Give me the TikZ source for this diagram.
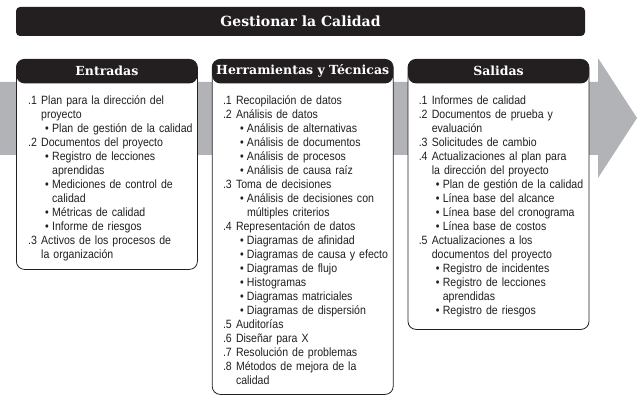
\documentclass[tikz,border=0pt]{standalone}
\usepackage{fontspec}
\setmainfont[FakeStretch=0.88]{Liberation Sans}
\newfontfamily\slabfont{DejaVu Serif}
\usetikzlibrary{positioning}
\definecolor{pmink}{RGB}{35,31,32}
\definecolor{pmgray}{RGB}{177,179,182}
\newcommand{\lnum}[2]{\par\hangindent=13pt\hangafter=1\rule{0pt}{11pt}\makebox[13pt][l]{#1}#2}
\newcommand{\lbul}[1]{\par\hangindent=24pt\hangafter=1\rule{0pt}{11pt}\hspace*{17pt}\makebox[7pt][l]{\textbullet}#1}

\begin{document}
\begin{tikzpicture}[
  x=1pt, y=-1pt,
  titlebar/.style={fill=pmink, rounded corners=4pt, text=white,
                   minimum width=569pt, minimum height=29pt, inner sep=0pt,
                   font=\slabfont\bfseries\fontsize{14}{16}\selectfont},
  colbox/.style={draw=pmink, fill=white, rounded corners=8pt, line width=0.8pt,
                 minimum width=181pt, anchor=north west, inner sep=0pt,
                 path picture={\fill[pmink] (path picture bounding box.north west)
                   rectangle ([yshift=-24pt]path picture bounding box.north east);}},
  hdrtxt/.style={text=white, inner sep=0pt,
                 font=\slabfont\bfseries\fontsize{12.5}{14}\selectfont},
  listtxt/.style={text width=178pt, inner sep=0pt, anchor=north west, text=pmink,
                  font=\fontsize{12}{14}\selectfont}
]
\useasboundingbox (0,0) rectangle (641,404);

% ── Flow arrow ───────────────────────────────────────────────────────────────
\fill[pmgray] (0,82) -- (598,82) -- (598,58) -- (637,118)
  -- (598,178) -- (598,155) -- (0,155) -- cycle;

% ── Title ────────────────────────────────────────────────────────────────────
\node[titlebar] (title) at (300.5,21.5) {Gestionar la Calidad};

% ── Columns ──────────────────────────────────────────────────────────────────
\node[colbox, minimum height=210pt] (entbox) at (16,59) {};
\node[colbox, minimum height=335pt, right=14pt of entbox.north east, anchor=north west] (herbox) {};
\node[colbox, minimum height=270pt, right=14pt of herbox.north east, anchor=north west] (salbox) {};

\node[hdrtxt] (enthdr) at ([yshift=-12pt]entbox.north) {Entradas};
\node[hdrtxt] (herhdr) at ([yshift=-12pt]herbox.north) {Herramientas y Técnicas};
\node[hdrtxt] (salhdr) at ([yshift=-12pt]salbox.north) {Salidas};

% ── Lists ────────────────────────────────────────────────────────────────────
\node[listtxt] (entlist) at ([xshift=12pt, yshift=-31pt]entbox.north west) {%
  \lnum{.1}{Plan para la dirección del\newline proyecto}
  \lbul{Plan de gestión de la calidad}
  \lnum{.2}{Documentos del proyecto}
  \lbul{Registro de lecciones\newline aprendidas}
  \lbul{Mediciones de control de\newline calidad}
  \lbul{Métricas de calidad}
  \lbul{Informe de riesgos}
  \lnum{.3}{Activos de los procesos de\newline la organización}\par};

\node[listtxt] (herlist) at ([xshift=11pt, yshift=-31pt]herbox.north west) {%
  \lnum{.1}{Recopilación de datos}
  \lnum{.2}{Análisis de datos}
  \lbul{Análisis de alternativas}
  \lbul{Análisis de documentos}
  \lbul{Análisis de procesos}
  \lbul{Análisis de causa raíz}
  \lnum{.3}{Toma de decisiones}
  \lbul{Análisis de decisiones con\newline múltiples criterios}
  \lnum{.4}{Representación de datos}
  \lbul{Diagramas de afinidad}
  \lbul{Diagramas de causa y efecto}
  \lbul{Diagramas de flujo}
  \lbul{Histogramas}
  \lbul{Diagramas matriciales}
  \lbul{Diagramas de dispersión}
  \lnum{.5}{Auditorías}
  \lnum{.6}{Diseñar para X}
  \lnum{.7}{Resolución de problemas}
  \lnum{.8}{Métodos de mejora de la\newline calidad}\par};

\node[listtxt] (sallist) at ([xshift=11pt, yshift=-31pt]salbox.north west) {%
  \lnum{.1}{Informes de calidad}
  \lnum{.2}{Documentos de prueba y\newline evaluación}
  \lnum{.3}{Solicitudes de cambio}
  \lnum{.4}{Actualizaciones al plan para\newline la dirección del proyecto}
  \lbul{Plan de gestión de la calidad}
  \lbul{Línea base del alcance}
  \lbul{Línea base del cronograma}
  \lbul{Línea base de costos}
  \lnum{.5}{Actualizaciones a los\newline documentos del proyecto}
  \lbul{Registro de incidentes}
  \lbul{Registro de lecciones\newline aprendidas}
  \lbul{Registro de riesgos}\par};

\end{tikzpicture}
\end{document}
